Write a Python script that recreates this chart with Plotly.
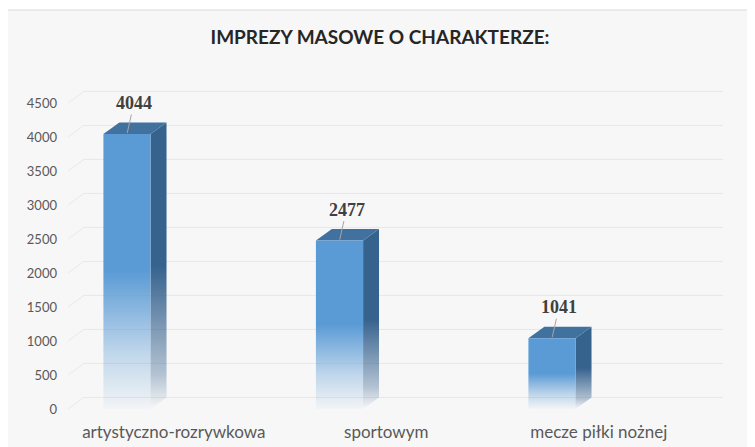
import plotly.graph_objects as go

# dane
kategorie = ["artystyczno-rozrywkowa", "sportowym", "mecze piłki nożnej"]
wartosci = [4044, 2477, 1041]
y_ticks = [0, 500, 1000, 1500, 2000, 2500, 3000, 3500, 4000, 4500]

# wygląd "3D"
W = 0.222          # szerokość przedniej ściany słupka
DX = 0.075         # głębokość w poziomie
DY = 170           # głębokość w pionie
BLUE = "#5b9bd5"
TOP = "#41719f"
SIDE = "#36628e"
BG = "#f7f7f7"

# strona ma 8px marginesu body
OFF = 8
FW, FH = 755 - OFF, 447 - OFF

fig = go.Figure()

for i, v in enumerate(wartosci):
    x0, x1 = i - W / 2, i + W / 2
    # bok
    fig.add_trace(go.Scatter(
        x=[x1, x1 + DX, x1 + DX, x1, x1], y=[0, DY, v + DY, v, 0],
        fill="toself", mode="lines", line=dict(width=0),
        fillgradient=dict(type="vertical", colorscale=[
            [0, "rgba(54,98,142,0.0)"], [0.12, "rgba(54,98,142,0.35)"],
            [0.5, SIDE], [1, SIDE]]),
        hoverinfo="skip", showlegend=False))
    # góra
    fig.add_trace(go.Scatter(
        x=[x0, x1, x1 + DX, x0 + DX, x0], y=[v, v, v + DY, v + DY, v],
        fill="toself", mode="lines", line=dict(width=0), fillcolor=TOP,
        hoverinfo="skip", showlegend=False))
    # przód
    fig.add_trace(go.Scatter(
        x=[x0, x1, x1, x0, x0], y=[0, 0, v, v, 0],
        fill="toself", mode="lines", line=dict(width=0),
        fillgradient=dict(type="vertical", colorscale=[
            [0, "rgba(91,155,213,0.03)"], [0.2, "rgba(91,155,213,0.35)"],
            [0.5, BLUE], [1, BLUE]]),
        hoverinfo="skip", showlegend=False))
    fig.add_annotation(x=i, y=v, text=f"<b>{v}</b>", ax=7, ay=-31,
                       showarrow=True, arrowhead=0, arrowwidth=1, arrowcolor="#a6a6a6",
                       standoff=1,
                       font=dict(family="Liberation Serif", size=18, color="#404040"))

# obszar wykresu (w pikselach obrazu wzorcowego)
L, R, T, B = 58, 723, 60, 420
Y0, PX = 409, 0.068   # piksel zera i piksele na jednostkę
pw, ph = R - L, B - T
fig.add_shape(type="rect", xref="paper", yref="paper",
              x0=(6 - L) / pw, x1=(749 - L) / pw, y0=(B - 455) / ph, y1=(B - 10) / ph,
              fillcolor=BG, line=dict(color="#d9d9d9", width=1), layer="below")

# linie siatki na tylnej ścianie
x_front = (68 - 127) / 212.5
for t in y_ticks:
    fig.add_shape(type="line", xref="x", yref="y", x0=x_front + DX, x1=2.805,
                  y0=t + DY, y1=t + DY, line=dict(color="#e7e7e7", width=1), layer="below")
    fig.add_shape(type="line", xref="x", yref="y", x0=x_front, x1=x_front + DX,
                  y0=t, y1=t + DY, line=dict(color="#e9e9e9", width=1), layer="below")

fig.update_layout(
    width=FW, height=FH,
    margin=dict(l=L - OFF, r=755 - R, t=T - OFF, b=447 - B),
    paper_bgcolor="white", plot_bgcolor="rgba(0,0,0,0)",
    title=dict(text="<b>IMPREZY MASOWE O CHARAKTERZE:</b>", xref="container",
               x=(380 - OFF) / FW, y=1 - (37 - OFF) / FH, yanchor="middle", xanchor="center",
               font=dict(family="Lato", size=19, color="#262626")),
    xaxis=dict(range=[(L - 127) / 212.5, (R - 127) / 212.5], showgrid=False, zeroline=False,
               tickvals=[i + 0.22 for i in range(len(kategorie))], ticktext=kategorie,
               ticks="", showline=False, automargin=False,
               tickfont=dict(family="Lato", size=17, color="#595959")),
    yaxis=dict(range=[(Y0 - B) / PX, (Y0 - T) / PX], showgrid=False, zeroline=False,
               tickvals=y_ticks, ticks="", showline=False, automargin=False,
               tickfont=dict(family="Lato", size=13, color="#595959")),
    showlegend=False,
)

fig.write_html("out.html")
